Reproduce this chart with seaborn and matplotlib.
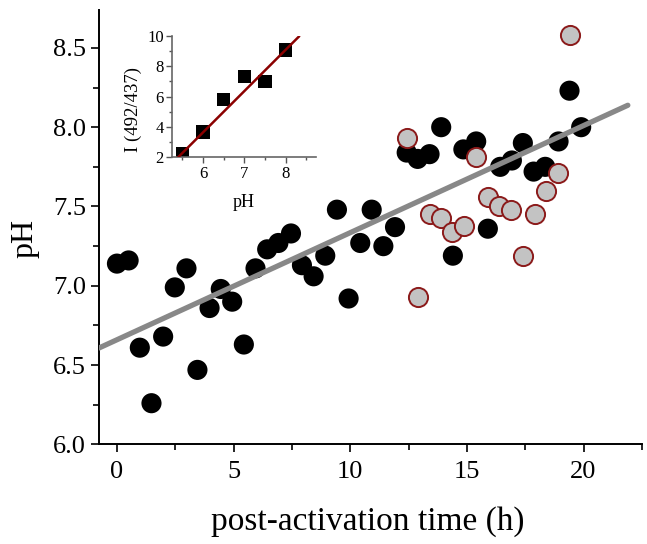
import numpy as np
import pandas as pd
import matplotlib
matplotlib.use('Agg')
import matplotlib.pyplot as plt
from matplotlib.ticker import MultipleLocator
import seaborn as sns

# main panel: pH vs time, black = first series, grey = second series
black_time = [0, 0.5, 0.98, 1.48, 1.98, 2.48, 2.98, 3.45, 3.97, 4.45, 4.94, 5.44,
              5.94, 6.44, 6.92, 7.46, 7.93, 8.43, 8.93, 9.43, 9.93, 10.43, 10.92,
              11.42, 11.92, 12.42, 12.89, 13.4, 13.9, 14.4, 14.85, 15.4, 15.9,
              16.43, 16.93, 17.4, 17.86, 18.36, 18.93, 19.4, 19.9]
black_ph = [7.14, 7.16, 6.61, 6.26, 6.68, 6.99, 7.11, 6.47, 6.86, 6.98, 6.90, 6.63,
            7.11, 7.23, 7.27, 7.33, 7.13, 7.06, 7.19, 7.48, 6.92, 7.27, 7.48,
            7.25, 7.37, 7.84, 7.80, 7.83, 8.00, 7.19, 7.86, 7.91, 7.36,
            7.75, 7.79, 7.90, 7.72, 7.75, 7.91, 8.23, 8.00]
grey_time = [12.42, 12.9, 13.4, 13.9, 14.37, 14.88, 15.4, 15.9, 16.39, 16.9,
             17.4, 17.9, 18.41, 18.9, 19.4]
grey_ph = [7.93, 6.93, 7.45, 7.43, 7.34, 7.38, 7.81, 7.56, 7.50, 7.48,
           7.19, 7.45, 7.60, 7.71, 8.58]
fit_intercept = 6.66
fit_slope = 0.0675
fit_range = [-0.77, 21.9]

# inset: calibration
cal_ph = [5.5, 6.0, 6.5, 7.0, 7.5, 8.0]
cal_ratio = [2.22, 3.65, 5.82, 7.32, 6.99, 9.08]
cal_intercept = -12.68
cal_slope = 2.72
cal_range = [5.4, 8.33]

sns.set_style('ticks')
plt.rcParams['font.family'] = ['Liberation Serif', 'DejaVu Serif']
plt.rcParams['text.color'] = 'black'
plt.rcParams['axes.labelcolor'] = 'black'

fig = plt.figure(figsize=(6.47, 5.44), dpi=100)
ax = fig.add_axes([0.153, 0.183, 0.839, 0.799])

df_black = pd.DataFrame({'time': black_time, 'ph': black_ph})
df_grey = pd.DataFrame({'time': grey_time, 'ph': grey_ph})

sns.scatterplot(data=df_black, x='time', y='ph', ax=ax, color='black', s=210,
                edgecolor='none', zorder=2)
fx = np.array(fit_range)
sns.lineplot(x=fx, y=fit_intercept + fit_slope * fx, ax=ax, color='#888888',
             linewidth=3.8, zorder=3)
sns.scatterplot(data=df_grey, x='time', y='ph', ax=ax, color='#c3c3c3', s=190,
                edgecolor='#8b1a1a', linewidth=1.4, zorder=4)

ax.set_xlim(-0.77, 22.5)
ax.set_ylim(6.0, 8.74)
ax.xaxis.set_major_locator(MultipleLocator(5))
ax.xaxis.set_minor_locator(MultipleLocator(2.5))
ax.yaxis.set_major_locator(MultipleLocator(0.5))
ax.yaxis.set_minor_locator(MultipleLocator(0.25))
ax.yaxis.set_major_formatter(matplotlib.ticker.FormatStrFormatter('%.1f'))
ax.tick_params(which='major', length=6, width=1.2, labelsize=19, colors='black')
ax.tick_params(axis='x', which='major', pad=6)
ax.tick_params(which='minor', length=4, width=1.2, colors='black')
for side in ['left', 'bottom']:
    ax.spines[side].set_linewidth(1.4)
    ax.spines[side].set_color('black')
sns.despine(ax=ax)
ax.set_xlabel('post-activation time (h)', fontsize=24, color='black')
ax.xaxis.set_label_coords(0.496, -0.142)
ax.set_ylabel('pH', fontsize=23, color='black')
ax.yaxis.set_label_coords(-0.109, 0.473)

# inset
ins = fig.add_axes([0.266, 0.711, 0.222, 0.223])
df_cal = pd.DataFrame({'ph': cal_ph, 'ratio': cal_ratio})
sns.scatterplot(data=df_cal, x='ph', y='ratio', ax=ins, marker='s', color='black',
                s=95, edgecolor='none', zorder=2)
cx = np.array(cal_range)
sns.lineplot(x=cx, y=cal_intercept + cal_slope * cx, ax=ins, color='#8b0000',
             linewidth=1.8, zorder=3)
ins.set_xlim(5.25, 8.73)
ins.set_ylim(2, 10)
ins.xaxis.set_major_locator(MultipleLocator(1))
ins.xaxis.set_minor_locator(MultipleLocator(0.5))
ins.yaxis.set_major_locator(MultipleLocator(2))
ins.yaxis.set_minor_locator(MultipleLocator(1))
ins.tick_params(which='major', length=4, width=1, labelsize=12, colors='#555555',
                labelcolor='black', pad=2)
ins.tick_params(which='minor', length=2.5, width=1, colors='#555555')
for side in ['left', 'bottom']:
    ins.spines[side].set_color('#666666')
    ins.spines[side].set_linewidth(1.2)
sns.despine(ax=ins)
ins.patch.set_alpha(0)
ins.set_xlabel('pH', fontsize=13, color='black')
ins.xaxis.set_label_coords(0.5, -0.30)
ins.set_ylabel('I (492/437)', fontsize=13.5, color='black')
ins.yaxis.set_label_coords(-0.21, 0.39)

fig.savefig('out.png', dpi=100)
